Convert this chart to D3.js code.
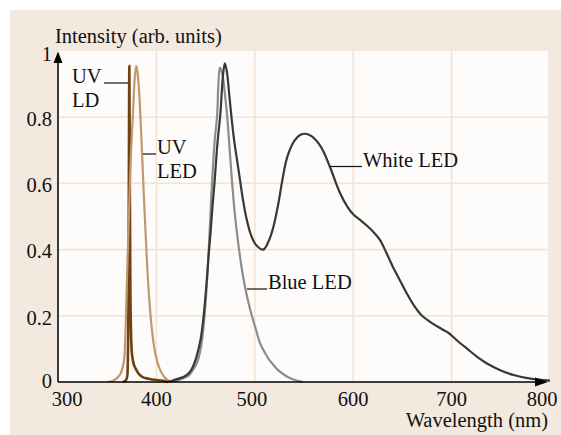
<!DOCTYPE html>
<html>
<head>
<meta charset="utf-8">
<script src="https://cdn.jsdelivr.net/npm/d3@7"></script>
<style>
	html, body { margin: 0; padding: 0; background: #fff; }
	svg text { font-family: "Liberation Serif", "Times New Roman", serif; font-size: 20.5px; fill: #111; }
</style>
</head>
<body>
<div id="grafica"></div>
<script>
// datos (nm, intensidad)
var uvLdNm   = [366, 369, 370.5, 371.5, 372, 372.5, 373, 373.5, 374.2, 375, 376.5, 379, 382, 386, 392, 400, 407, 412];
var uvLdVal  = [0, 0.005, 0.02, 0.2, 0.6, 0.955, 0.6, 0.3, 0.15, 0.09, 0.06, 0.04, 0.025, 0.015, 0.01, 0.006, 0.004, 0];

var uvLedNm  = [350, 356, 361, 365, 367.5, 368.6, 370, 372, 374, 376, 378, 379.5, 381, 383, 385, 387, 389, 391, 393, 395, 398, 401, 404, 408, 412, 416];
var uvLedVal = [0, 0.004, 0.015, 0.036, 0.075, 0.15, 0.3, 0.5, 0.68, 0.8, 0.92, 0.955, 0.93, 0.85, 0.72, 0.58, 0.45, 0.33, 0.24, 0.17, 0.1, 0.06, 0.035, 0.015, 0.005, 0];

var blueNm   = [415, 420, 426, 433, 438, 441.5, 445, 448, 450, 452, 454, 456.5, 459, 461.8, 463, 464.5, 467, 470, 472, 475, 477, 480, 484, 488, 492, 497, 501, 505, 510, 514, 518, 524, 533, 540, 549];
var blueVal  = [0, 0.003, 0.01, 0.02, 0.04, 0.06, 0.1, 0.17, 0.24, 0.33, 0.45, 0.6, 0.72, 0.81, 0.9, 0.95, 0.93, 0.86, 0.8, 0.68, 0.6, 0.5, 0.4, 0.32, 0.26, 0.2, 0.16, 0.12, 0.09, 0.07, 0.055, 0.035, 0.016, 0.007, 0];

var whiteNm  = [410, 415, 420, 428, 434, 438.5, 442, 445, 448, 451, 453, 455, 457, 459, 462, 465, 467.5, 469.5, 471.5, 474, 476.3, 479, 482, 485, 488, 491.5, 496, 501, 508.5, 514, 519, 524, 528, 533, 540, 546, 551.5, 558, 565, 570, 577, 586, 594, 600, 607, 614, 621, 627, 633, 640, 647, 654, 662, 670, 680, 690, 697, 705, 716, 726, 736, 750, 763, 780, 800];
var whiteVal = [0, 0.003, 0.008, 0.016, 0.03, 0.056, 0.09, 0.13, 0.2, 0.3, 0.38, 0.45, 0.53, 0.6, 0.72, 0.81, 0.92, 0.963, 0.94, 0.87, 0.8, 0.73, 0.67, 0.61, 0.55, 0.495, 0.445, 0.415, 0.4, 0.425, 0.47, 0.54, 0.61, 0.68, 0.728, 0.746, 0.75, 0.742, 0.72, 0.695, 0.645, 0.575, 0.53, 0.507, 0.49, 0.472, 0.452, 0.43, 0.395, 0.35, 0.31, 0.27, 0.23, 0.2, 0.178, 0.16, 0.148, 0.127, 0.1, 0.076, 0.056, 0.035, 0.021, 0.01, 0.004];

var xTicks = [300, 400, 500, 600, 700, 800];
var yTicks = [0, 0.2, 0.4, 0.6, 0.8, 1];

var series = [
	{nombre: 'UV LD',     nm: uvLdNm,  val: uvLdVal,  color: '#6e4213', ancho: 2.6, suave: false},
	{nombre: 'UV LED',    nm: uvLedNm, val: uvLedVal, color: '#bf996d', ancho: 2.2, suave: false},
	{nombre: 'Blue LED',  nm: blueNm,  val: blueVal,  color: '#8c8c8c', ancho: 2.2, suave: true},
	{nombre: 'White LED', nm: whiteNm, val: whiteVal, color: '#383838', ancho: 2.2, suave: true}
];

var W = 561, H = 435;
var m = {t: 51, r: 13, b: 53, l: 58};

var x = d3.scaleLinear().domain([300, 800]).range([m.l, 550]);
var y = d3.scaleLinear().domain([0, 1]).range([H - m.b, m.t]);

var g = d3.select('#grafica').append('svg')
	.attr('width', W)
	.attr('height', H);

// fondo beige y area de la grafica
g.append('rect')
	.attr('x', 10).attr('y', 10)
	.attr('width', W - 10).attr('height', H - 10)
	.attr('fill', '#f3e9df');

g.append('rect')
	.attr('x', m.l).attr('y', m.t)
	.attr('width', 548 - m.l).attr('height', y(0) - m.t)
	.attr('fill', '#fdfcfb');

// rejilla
g.append('g').selectAll('line')
	.data(xTicks.filter(function(d) { return d > 300 && d < 800; }))
	.enter().append('line')
	.attr('x1', function(d) { return x(d); })
	.attr('x2', function(d) { return x(d); })
	.attr('y1', m.t).attr('y2', y(0))
	.attr('stroke', '#f3e3d4').attr('stroke-width', 1.6);

g.append('g').selectAll('line')
	.data(yTicks.filter(function(d) { return d > 0 && d < 1; }))
	.enter().append('line')
	.attr('x1', m.l).attr('x2', 548)
	.attr('y1', function(d) { return y(d); })
	.attr('y2', function(d) { return y(d); })
	.attr('stroke', '#f3e3d4').attr('stroke-width', 1.6);

// curvas
var lineaPico = d3.line()
	.x(function(d) { return x(d[0]); })
	.y(function(d) { return y(d[1]); })
	.curve(d3.curveMonotoneX);

var lineaSuave = d3.line()
	.x(function(d) { return x(d[0]); })
	.y(function(d) { return y(Math.max(0, d[1])); })
	.curve(d3.curveCatmullRom.alpha(0.5));

g.append('g').selectAll('path')
	.data(series)
	.enter().append('path')
	.attr('d', function(s) {
		var pts = d3.zip(s.nm, s.val);
		return s.suave ? lineaSuave(pts) : lineaPico(pts);
	})
	.attr('fill', 'none')
	.attr('stroke', function(s) { return s.color; })
	.attr('stroke-width', function(s) { return s.ancho; })
	.attr('stroke-linejoin', 'round');

// ejes con flecha
var x0 = x(300), y0 = y(0);
g.append('line')
	.attr('x1', x0).attr('x2', 540)
	.attr('y1', y0).attr('y2', y0)
	.attr('stroke', '#000').attr('stroke-width', 1.5);
g.append('path')
	.attr('d', 'M548,' + y0 + 'L535,' + (y0 - 4.5) + 'L535,' + (y0 + 4.5) + 'Z')
	.attr('fill', '#000');

g.append('line')
	.attr('x1', x0).attr('x2', x0)
	.attr('y1', y0).attr('y2', 60)
	.attr('stroke', '#000').attr('stroke-width', 1.5);
g.append('path')
	.attr('d', 'M' + x0 + ',51.5L' + (x0 - 4.5) + ',63L' + (x0 + 4.5) + ',63Z')
	.attr('fill', '#000');

// etiquetas de los ejes
g.append('g').selectAll('text')
	.data(xTicks)
	.enter().append('text')
	.attr('x', function(d) { return x(d); })
	.attr('dx', function(d) { return d == 300 ? 9 : (d == 800 ? -8 : (d == 500 ? -3 : 0)); })
	.attr('y', 406)
	.attr('text-anchor', 'middle')
	.text(function(d) { return d; });

g.append('g').selectAll('text')
	.data(yTicks)
	.enter().append('text')
	.attr('x', 52)
	.attr('y', function(d) { return y(d) + (d == 0 ? 6 : (d == 1 ? 10.4 : 8.7)); })
	.attr('text-anchor', 'end')
	.text(function(d) { return d; });

g.append('text')
	.attr('x', 55).attr('y', 42.5)
	.text('Intensity (arb. units)');

g.append('text')
	.attr('x', 548).attr('y', 426.5)
	.attr('text-anchor', 'end')
	.text('Wavelength (nm)');

// rotulos de las curvas con su linea guia
var rotulos = [
	{lineas: ['UV', 'LD'],  tx: 72,  ty: 83,    x1: 104, x2: 128},
	{lineas: ['UV', 'LED'], tx: 157, ty: 154,   x1: 143, x2: 156},
	{lineas: ['Blue LED'],  tx: 268, ty: 289,   x1: 247, x2: 267},
	{lineas: ['White LED'], tx: 363, ty: 166.5, x1: 330, x2: 362}
];

rotulos.forEach(function(r) {
	g.append('line')
		.attr('x1', r.x1).attr('x2', r.x2)
		.attr('y1', r.ty).attr('y2', r.ty)
		.attr('stroke', '#111').attr('stroke-width', 1.2);
	var t = g.append('text').attr('x', r.tx).attr('y', r.ty);
	r.lineas.forEach(function(l, i) {
		t.append('tspan')
			.attr('x', r.tx)
			.attr('dy', i == 0 ? 0 : 23.5)
			.text(l);
	});
});
</script>
</body>
</html>
